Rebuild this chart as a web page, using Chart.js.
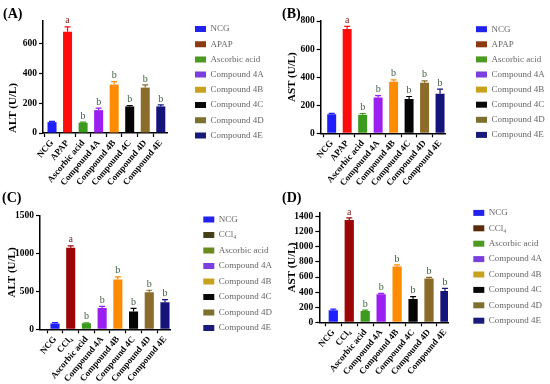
<!DOCTYPE html>
<html>
<head>
<meta charset="utf-8">
<script src="https://cdn.jsdelivr.net/npm/chart.js@4"></script>
<style>
  html, body { margin: 0; padding: 0; background: #fff; overflow: hidden; }
  #wrap { position: relative; width: 550px; height: 384px; overflow: hidden; background: #fff; }
  canvas { position: absolute; }
</style>
</head>
<body>
<div id="wrap">
  <canvas id="chartA" width="275" height="190" style="left:0;top:0"></canvas>
  <canvas id="chartB" width="275" height="190" style="left:279px;top:0"></canvas>
  <canvas id="chartC" width="280" height="194" style="left:0;top:190px"></canvas>
  <canvas id="chartD" width="275" height="194" style="left:279px;top:190px"></canvas>
</div>
<script>
const groupsApap = ['NCG', 'APAP', 'Ascorbic acid', 'Compound 4A', 'Compound 4B', 'Compound 4C', 'Compound 4D', 'Compound 4E'];
const groupsCcl4 = ['NCG', 'CCl\u2084', 'Ascorbic acid', 'Compound 4A', 'Compound 4B', 'Compound 4C', 'Compound 4D', 'Compound 4E'];

// mean and error (U/L)
const altApap = [73, 678, 69, 153, 324, 178, 304, 178];
const altApapErr = [5, 33, 4, 14, 20, 6, 18, 10];
const astApap = [136, 743, 133, 255, 367, 245, 360, 281];
const astApapErr = [6, 19, 8, 14, 14, 17, 14, 33];
const altCcl4 = [75, 1074, 80, 280, 657, 235, 488, 355];
const altCcl4Err = [12, 26, 6, 22, 35, 40, 27, 35];
const astCcl4 = [160, 1356, 150, 371, 738, 309, 579, 415];
const astCcl4Err = [15, 27, 12, 13, 22, 31, 17, 35];
const letters = ['', 'a', 'b', 'b', 'b', 'b', 'b', 'b'];

const altApapTicks = [0, 200, 400, 600];
const astApapTicks = [0, 200, 400, 600, 800];
const altCcl4Ticks = [0, 500, 1000, 1500];
const astCcl4Ticks = [0, 200, 400, 600, 800, 1000, 1200, 1400];

const barColorsApap = ['#1e1eff', '#ff0d0d', '#3c9a1e', '#9b1ff0', '#ff8c00', '#050505', '#8b6c2a', '#14147a'];
const barColorsCcl4 = ['#1e1eff', '#9c0606', '#3c9a1e', '#9b1ff0', '#ff8c00', '#050505', '#8b6c2a', '#14147a'];
const legendColorsApap = ['#2222ee', '#8b3a12', '#4c9a22', '#7b3fe0', '#c8a21e', '#080808', '#7d6f2e', '#1a1a7a'];
const legendColorsC = ['#2222ee', '#45401a', '#6b8a1e', '#7b3fe0', '#c8a21e', '#080808', '#7d6f2e', '#1a1a7a'];
const legendColorsD = ['#2222ee', '#5a2a0a', '#4c9a22', '#7b3fe0', '#c8a21e', '#080808', '#7d6f2e', '#1a1a7a'];

const serif = 'Liberation Serif';

const errorBars = {
  id: 'errorBars',
  afterDatasetsDraw(chart, args, opts) {
    const ctx = chart.ctx;
    const y = chart.scales.y;
    const ds = chart.data.datasets[0];
    const meta = chart.getDatasetMeta(0);
    ctx.save();
    meta.data.forEach((bar, i) => {
      const top = y.getPixelForValue(ds.data[i].y + opts.errors[i]);
      ctx.strokeStyle = ds.backgroundColor[i];
      ctx.lineWidth = 1.2;
      ctx.beginPath();
      ctx.moveTo(bar.x, bar.y);
      ctx.lineTo(bar.x, top);
      ctx.moveTo(bar.x - 3, top);
      ctx.lineTo(bar.x + 3, top);
      ctx.stroke();
      if (opts.letters[i]) {
        ctx.fillStyle = opts.letters[i] == 'a' ? '#8b2323' : '#3d5c3d';
        ctx.font = '10px "' + serif + '"';
        ctx.textAlign = 'center';
        ctx.textBaseline = 'bottom';
        ctx.fillText(opts.letters[i], bar.x, top - 1);
      }
    });
    ctx.restore();
  }
};

function makePanel(id, p) {
  new Chart(document.getElementById(id), {
    type: 'bar',
    data: {
      datasets: [{
        data: p.values.map((v, i) => ({x: i, y: v})),
        backgroundColor: p.barColors,
        borderWidth: 0,
        barPercentage: 0.58,
        categoryPercentage: 1
      }]
    },
    options: {
      responsive: false,
      animation: false,
      devicePixelRatio: 1,
      layout: {padding: {left: p.padLeft, right: p.padRight, top: 0, bottom: 0}},
      plugins: {
        title: {
          display: true, text: p.title, align: 'start', color: '#000',
          font: {family: serif, size: 14, weight: 'bold', lineHeight: 1},
          padding: {top: p.titleTop, bottom: p.titleBottom}
        },
        legend: {
          position: 'right', align: 'start', maxWidth: 80,
          title: {display: true, text: '', font: {size: 1, lineHeight: 1}, padding: {top: p.legendTop, bottom: 0}},
          labels: {
            boxWidth: 11, boxHeight: 6, padding: p.legendGap, color: '#000',
            font: {family: serif, size: 9},
            generateLabels: () => p.labels.map((t, i) => ({
              text: t, fillStyle: p.legendColors[i], strokeStyle: p.legendColors[i],
              lineWidth: 0, hidden: false, datasetIndex: 0, index: i
            }))
          }
        },
        tooltip: {enabled: false},
        errorBars: {errors: p.errors, letters: letters}
      },
      scales: {
        x: {
          type: 'linear', min: p.xMin, max: p.xMax, offset: false,
          afterBuildTicks: s => { s.ticks = p.labels.map((t, i) => ({value: i})); },
          afterFit: s => { s.height = p.xHeight; },
          ticks: {
            autoSkip: false, minRotation: 50, maxRotation: 50, padding: 1, color: '#000',
            font: {family: serif, size: 9, weight: 'bold'},
            callback: v => p.labels[v]
          },
          grid: {display: true, drawOnChartArea: false, drawTicks: true, tickLength: 4, tickColor: '#000', tickWidth: 1.2},
          border: {color: '#000', width: 1.5}
        },
        y: {
          min: 0, max: p.yMax,
          afterBuildTicks: s => { s.ticks = p.ticks.map(v => ({value: v})); },
          afterFit: s => { s.width = p.yWidth; },
          ticks: {padding: 2, color: '#000', font: {family: serif, size: 9.5, weight: 'bold'}, callback: v => String(v)},
          grid: {display: true, drawOnChartArea: false, drawTicks: true, tickLength: 4, tickColor: '#000', tickWidth: 1.2},
          border: {color: '#000', width: 1.5},
          title: {display: true, text: p.yTitle, align: p.yTitleAlign, color: '#000', padding: {top: 4, bottom: 0},
                  font: {family: serif, size: 11, weight: 'bold'}}
        },
        gap: {
          type: 'linear', position: 'right', display: true,
          grid: {display: false}, border: {display: false}, ticks: {display: false},
          afterFit: s => { s.width = p.gap; }
        }
      }
    },
    plugins: [errorBars]
  });
}

makePanel('chartA', {
  title: '(A)', yTitle: 'ALT (U/L)', yTitleAlign: 'start', labels: groupsApap,
  values: altApap, errors: altApapErr, ticks: altApapTicks, yMax: 750,
  barColors: barColorsApap, legendColors: legendColorsApap,
  padLeft: 3, yWidth: 40, titleTop: 7, titleBottom: 0, xHeight: 57,
  xMin: -0.58, xMax: 7.4, gap: 21.8, padRight: 6.2, legendTop: 17.3, legendGap: 6.2
});
makePanel('chartB', {
  title: '(B)', yTitle: 'AST (U/L)', yTitleAlign: 'center', labels: groupsApap,
  values: astApap, errors: astApapErr, ticks: astApapTicks, yMax: 800,
  barColors: barColorsApap, legendColors: legendColorsApap,
  padLeft: 3, yWidth: 38.7, titleTop: 7, titleBottom: 0, xHeight: 56.7,
  xMin: -0.71, xMax: 7.32, gap: 24.9, padRight: 4.1, legendTop: 17.6, legendGap: 6.1
});
makePanel('chartC', {
  title: '(C)', yTitle: 'ALT (U/L)', yTitleAlign: 'center', labels: groupsCcl4,
  values: altCcl4, errors: altCcl4Err, ticks: altCcl4Ticks, yMax: 1500,
  barColors: barColorsCcl4, legendColors: legendColorsC,
  padLeft: 2, yWidth: 38, titleTop: 1.5, titleBottom: 10, xHeight: 54.7,
  xMin: -0.955, xMax: 7.32, gap: 26.8, padRight: 3.2, legendTop: 17.5, legendGap: 6.5
});
makePanel('chartD', {
  title: '(D)', yTitle: 'AST (U/L)', yTitleAlign: 'center', labels: groupsCcl4,
  values: astCcl4, errors: astCcl4Err, ticks: astCcl4Ticks, yMax: 1450,
  barColors: barColorsCcl4, legendColors: legendColorsD,
  padLeft: 3, yWidth: 37.3, titleTop: 1.5, titleBottom: 7.4, xHeight: 61.7,
  xMin: -0.877, xMax: 7.19, gap: 18.9, padRight: 7.1, legendTop: 11, legendGap: 6.4
});
</script>
</body>
</html>
